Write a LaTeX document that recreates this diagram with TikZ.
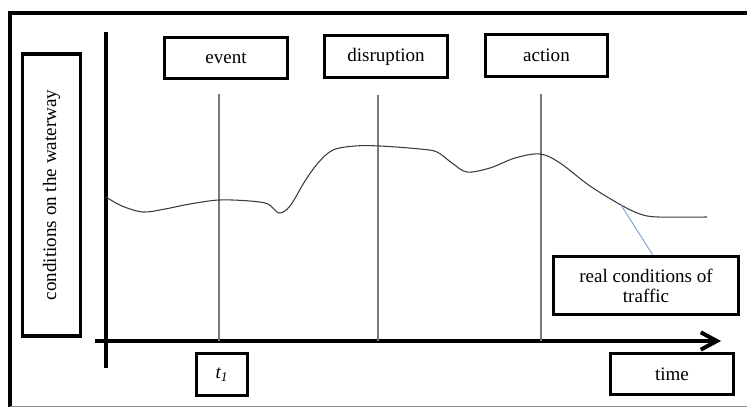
\documentclass[tikz,border=0pt]{standalone}
\usepackage{fontspec}
\setmainfont{Liberation Serif}
\usetikzlibrary{arrows.meta}

\tikzset{
  tbox/.style={draw, line width=2.8pt, inner sep=0pt, align=center, font=\fontsize{14.3}{17}\selectfont},
  axisline/.style={line width=3pt},
  marker/.style={color={rgb, 255:red, 120; green, 120; blue, 120}, line width=0.8pt},
}

\begin{document}
\begin{tikzpicture}[x=0.75pt,y=0.75pt,yscale=-1,xscale=1]
\useasboundingbox (0,0) rectangle (747,408);

%Shape: Frame
\draw [line width=2.6pt] (747,13) -- (10,13) -- (10,407) ;
\draw [color={rgb, 255:red, 140; green, 140; blue, 140}, line width=0.8pt] (10,406.5) -- (747,406.5) ;

% Text Node
\node [tbox, rotate=90, minimum width=212pt, minimum height=43.5pt] (cond) at (51.5,195) {conditions on the waterway};
% Text Node
\node [tbox, minimum width=92.25pt, minimum height=30.75pt] (event) at (226,58) {event};
% Text Node
\node [tbox, minimum width=92.25pt, minimum height=31.5pt] (disr) at (386,56.5) {disruption};
% Text Node
\node [tbox, minimum width=91.5pt, minimum height=31.5pt] (action) at (546.5,55.5) {action};
% Text Node
\node [tbox, minimum width=138.75pt, minimum height=43.5pt] (real) at (646,285.5) {real conditions of\\[-2pt]traffic};
% Text Node
\node [tbox, minimum width=92.25pt, minimum height=30.75pt] (time) at (672,374) {time};
% Text Node
\node [tbox, minimum width=38.25pt, minimum height=31.5pt] (tone) at (222,374.5) {\textit{t\textsubscript{1}}};

%Straight Lines: axes
\coordinate (ytop) at (106,32);
\coordinate (ybot) at (106,368);
\coordinate (xleft) at (95,341);
\coordinate (xright) at (721,341);
\draw [axisline] (ytop) -- (ybot) ;
\draw [axisline, -{Straight Barb[length=12pt,width=13pt,line width=3pt]}] (xleft) -- (xright) ;

%Straight Lines: markers
\coordinate (evtop) at (219,94);
\coordinate (evbot) at (219,341);
\coordinate (ditop) at (378,95);
\coordinate (dibot) at (378,341);
\coordinate (actop) at (541,94);
\coordinate (acbot) at (541,341);
\draw [marker] (evtop) -- (evbot) ;
\draw [marker] (ditop) -- (dibot) ;
\draw [marker] (actop) -- (acbot) ;

%Curve Lines: conditions
\draw [color={rgb, 255:red, 60; green, 60; blue, 60}, line width=0.8pt] plot [smooth, tension=0.55] coordinates {
  (106,197) (122,206) (143,212) (165,209) (190,204) (219,200) (250,201) (268,204)
  (279,213) (290,206) (305,181) (318,163) (333,150) (355,146) (380,146) (420,149)
  (437,152) (452,163) (467,172) (490,168) (515,158) (540,154) (560,163) (590,186)
  (621,205) (640,214) (658,217) (707,217)};

%Straight Lines: pointer
\coordinate (tip) at (621,205);
\draw [color={rgb, 255:red, 125; green, 163; blue, 216}, line width=0.7pt] (tip) -- (real.78) ;

\end{tikzpicture}
\end{document}
